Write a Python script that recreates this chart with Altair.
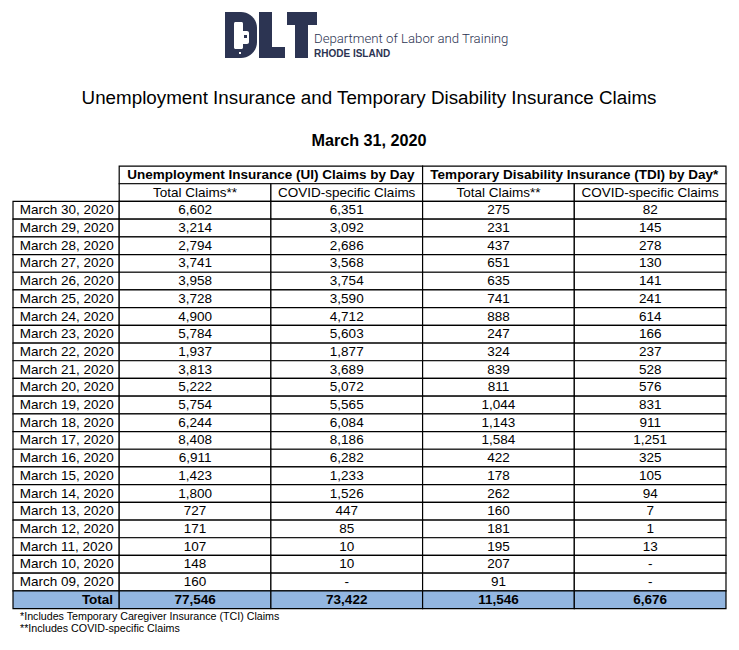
import altair as alt
import pandas as pd

# ---------------- data ----------------
dates = ["March 30, 2020", "March 29, 2020", "March 28, 2020", "March 27, 2020",
         "March 26, 2020", "March 25, 2020", "March 24, 2020", "March 23, 2020",
         "March 22, 2020", "March 21, 2020", "March 20, 2020", "March 19, 2020",
         "March 18, 2020", "March 17, 2020", "March 16, 2020", "March 15, 2020",
         "March 14, 2020", "March 13, 2020", "March 12, 2020", "March 11, 2020",
         "March 10, 2020", "March 09, 2020"]
ui_total = [6602, 3214, 2794, 3741, 3958, 3728, 4900, 5784, 1937, 3813, 5222,
            5754, 6244, 8408, 6911, 1423, 1800, 727, 171, 107, 148, 160]
ui_covid = [6351, 3092, 2686, 3568, 3754, 3590, 4712, 5603, 1877, 3689, 5072,
            5565, 6084, 8186, 6282, 1233, 1526, 447, 85, 10, 10, None]
tdi_total = [275, 231, 437, 651, 635, 741, 888, 247, 324, 839, 811,
             1044, 1143, 1584, 422, 178, 262, 160, 181, 195, 207, 91]
tdi_covid = [82, 145, 278, 130, 141, 241, 614, 166, 237, 528, 576,
             831, 911, 1251, 325, 105, 94, 7, 1, 13, None, None]
totals = [77546, 73422, 11546, 6676]
total_label = "Total"
group_headers = ["Unemployment Insurance (UI) Claims by Day",
                 "Temporary Disability Insurance (TDI) by Day*"]
sub_headers = ["Total Claims**", "COVID-specific Claims",
               "Total Claims**", "COVID-specific Claims"]
footnotes = ["*Includes Temporary Caregiver Insurance (TCI) Claims",
             "**Includes COVID-specific Claims"]
title_text = "Unemployment Insurance and Temporary Disability Insurance Claims"
subtitle_text = "March 31, 2020"
logo_line1 = "Department of Labor and Training"
logo_line2 = "RHODE ISLAND"

# ---------------- layout ----------------
W, H = 723, 634
edges = [0, 0.7, 1.7, 2.7, 3.7, 4.7]
X_DOMAIN = [-0.033, 4.733]
Y_DOMAIN = [-10.93, 24.89]
FONT = "Liberation Sans, Arial, sans-serif"
FS = 13.5
TOTAL_FILL = "#93B6E0"
LOGO = "#2C3452"

xs = alt.Scale(domain=X_DOMAIN, nice=False, zero=False)
ys = alt.Scale(domain=Y_DOMAIN, nice=False, zero=False, reverse=True)


def fmt(v):
    return "-" if v is None else f"{v:,}"


cols = [ui_total, ui_covid, tdi_total, tdi_covid]
n = len(dates)

# cell rectangles
cells = []
for g in range(2):
    cells.append(dict(x=edges[1 + 2 * g], x2=edges[3 + 2 * g], y=-2, y2=-1, fill="white"))
for c in range(4):
    cells.append(dict(x=edges[1 + c], x2=edges[2 + c], y=-1, y2=0, fill="white"))
for i in range(n + 1):
    for c in range(5):
        cells.append(dict(x=edges[c], x2=edges[c + 1], y=i, y2=i + 1,
                          fill=TOTAL_FILL if i == n else "white"))
cells_df = pd.DataFrame(cells)

centers = [(edges[c + 1] + edges[c + 2]) / 2 for c in range(4)]

regular = []
for c in range(4):
    regular.append(dict(x=centers[c], y=-0.5, t=sub_headers[c]))
    for i in range(n):
        regular.append(dict(x=centers[c], y=i + 0.5, t=fmt(cols[c][i])))
regular_df = pd.DataFrame(regular)

bold = []
for g in range(2):
    bold.append(dict(x=(edges[1 + 2 * g] + edges[3 + 2 * g]) / 2, y=-1.5, t=group_headers[g]))
for c in range(4):
    bold.append(dict(x=centers[c], y=n + 0.5, t=fmt(totals[c])))
bold_df = pd.DataFrame(bold)

dates_df = pd.DataFrame(dict(x=[0.045] * n, y=[i + 0.5 for i in range(n)], t=dates))
total_df = pd.DataFrame(dict(x=[0.66], y=[n + 0.5], t=[total_label]))

rects = alt.Chart(cells_df).mark_rect(stroke="black", strokeWidth=1.2).encode(
    x=alt.X("x:Q", scale=xs, axis=None), x2="x2:Q",
    y=alt.Y("y:Q", scale=ys, axis=None), y2="y2:Q",
    fill=alt.Fill("fill:N", scale=None),
)


def txt(df, align="center", weight="normal"):
    return alt.Chart(df).mark_text(font=FONT, fontSize=FS, fontWeight=weight,
                                   align=align, baseline="middle", color="black").encode(
        x=alt.X("x:Q", scale=xs, axis=None),
        y=alt.Y("y:Q", scale=ys, axis=None),
        text="t:N",
    )


def free_text(text, x, y, size, weight="normal", align="center", color="black",
              font=FONT, baseline="middle"):
    return alt.Chart(pd.DataFrame({"t": [text]})).mark_text(
        font=font, fontSize=size, fontWeight=weight, align=align,
        baseline=baseline, color=color).encode(
        x=alt.value(x), y=alt.value(y), text="t:N")


def block(x, x2, y, y2, color=LOGO, **kw):
    return alt.Chart(pd.DataFrame({"k": [0]})).mark_rect(color=color, **kw).encode(
        x=alt.value(x), x2=alt.value(x2), y=alt.value(y), y2=alt.value(y2))


# logo "DLT" drawn as blocks
logo = [
    block(217, 249, 4, 50, cornerRadiusTopRight=18, cornerRadiusBottomRight=18),
    block(226, 235, 14, 41, color="white", cornerRadius=1.5),
    block(233, 241, 23, 36, color="white", cornerRadius=2),
    block(236, 239, 27, 30, color=LOGO),
    block(231, 233, 44, 46, color="white"),
    block(251, 264, 4, 50),
    block(251, 277, 39, 50),
    block(279, 309, 4, 17),
    block(287, 300, 4, 50),
]

layers = [
    rects,
    txt(regular_df),
    txt(bold_df, weight="bold"),
    txt(dates_df, align="left"),
    txt(total_df, align="right", weight="bold"),
    free_text(title_text, 361, 90, 18.8),
    free_text(subtitle_text, 361, 133, 16.2, weight="bold"),
    free_text(footnotes[0], 12, 609, 10.7, align="left"),
    free_text(footnotes[1], 12, 621, 10.7, align="left"),
    *logo,
    free_text(logo_line1, 306, 31, 13.2, weight=300, align="left", color=LOGO,
              font="Roboto, Liberation Sans", baseline="middle"),
    free_text(logo_line2, 306, 46, 10, weight="bold", align="left", color=LOGO,
              font="Liberation Sans", baseline="middle"),
]

chart = alt.layer(*layers).properties(
    width=W, height=H, autosize=alt.AutoSizeParams(type="none"), padding=0
).configure_view(strokeWidth=0)

chart.save("out.html", embed_options={"renderer": "svg", "actions": False})
